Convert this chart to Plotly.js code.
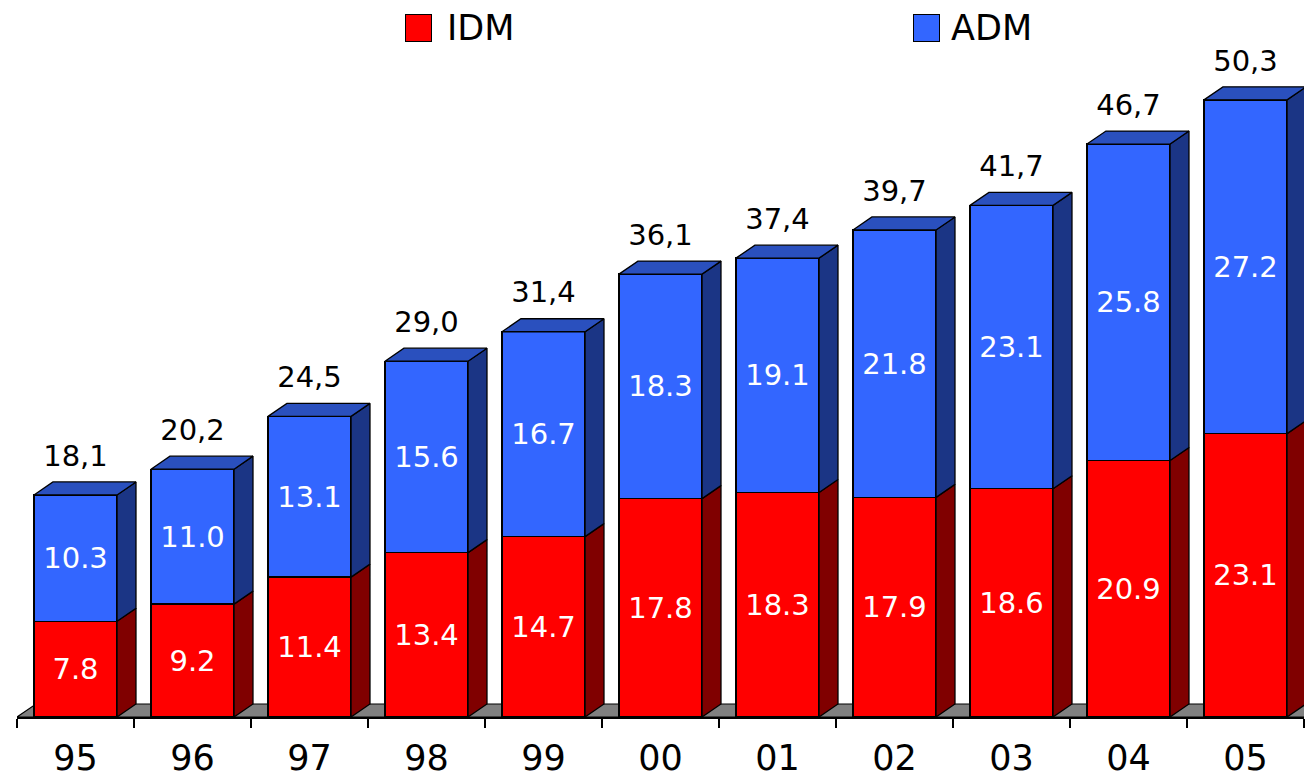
<!DOCTYPE html>
<html>
<head>
<meta charset="utf-8">
<script src="https://cdn.plot.ly/plotly-3.0.1.min.js"></script>
<style>html,body{margin:0;padding:0;background:#fff;}#chart{width:1306px;height:781px;}</style>
</head>
<body>
<div id="chart"></div>
<script>
// ---- data ----
const years = ['95','96','97','98','99','00','01','02','03','04','05'];
const idm = [7.8, 9.2, 11.4, 13.4, 14.7, 17.8, 18.3, 17.9, 18.6, 20.9, 23.1];
const adm = [10.3, 11.0, 13.1, 15.6, 16.7, 18.3, 19.1, 21.8, 23.1, 25.8, 27.2];
const seriesNames = ['IDM', 'ADM'];

// ---- style ----
const FONT = 'DejaVu Sans';
const W = 0.71, DX = 0.162, DY = 1.06;
const RED = '#FF0000', RED_SIDE = '#800000';
const BLUE = '#3366FF', BLUE_SIDE = '#1B3585', BLUE_TOP = '#2A50BE';
const EDGE = {color: '#000', width: 1.3};

const idx = years.map((_, i) => i);
const totals = idm.map((v, i) => v + adm[i]);

const traces = [];
function poly(xs, ys, color) {
  traces.push({type: 'scatter', mode: 'lines', x: xs.concat([xs[0]]), y: ys.concat([ys[0]]),
    fill: 'toself', fillcolor: color, line: EDGE, hoverinfo: 'skip', showlegend: false, cliponaxis: false});
}
idx.forEach(i => {
  const x0 = i - W / 2, x1 = i + W / 2;
  const a = idm[i], t = totals[i];
  poly([x1, x1 + DX, x1 + DX, x1], [0, DY, a + DY, a], RED_SIDE);
  poly([x1, x1 + DX, x1 + DX, x1], [a, a + DY, t + DY, t], BLUE_SIDE);
  poly([x0, x0 + DX, x1 + DX, x1], [t, t + DY, t + DY, t], BLUE_TOP);
});

traces.push({type: 'bar', name: seriesNames[0], x: idx, y: idm, width: W,
  marker: {color: RED, line: EDGE}, text: idm.map(v => v.toFixed(1)),
  textposition: 'inside', insidetextanchor: 'middle', textangle: 0, constraintext: 'none',
  textfont: {family: FONT, size: 29, color: '#fff'}, hoverinfo: 'skip', showlegend: false});
traces.push({type: 'bar', name: seriesNames[1], x: idx, y: adm, width: W,
  marker: {color: BLUE, line: EDGE}, text: adm.map(v => v.toFixed(1)),
  textposition: 'inside', insidetextanchor: 'middle', textangle: 0, constraintext: 'none',
  textfont: {family: FONT, size: 29, color: '#fff'}, hoverinfo: 'skip', showlegend: false});

traces.push({type: 'scatter', mode: 'markers+text', x: idx, y: totals.map(t => t + DY),
  marker: {size: 13, color: 'rgba(0,0,0,0)'},
  text: totals.map(t => t.toFixed(1).replace('.', ',')), textposition: 'top center',
  textfont: {family: FONT, size: 29, color: '#000'}, hoverinfo: 'skip', showlegend: false, cliponaxis: false});

const boundaries = years.map((_, i) => i - 0.5).concat([years.length - 0.5]);

const legendSquareX = [0.3015, 0.6962];
const legendTextX = [0.3325, 0.7240];
const legendColors = [RED, BLUE];
const annotations = [];
seriesNames.forEach((n, k) => {
  annotations.push({xref: 'paper', yref: 'paper', x: legendSquareX[k], y: 1.0487, xanchor: 'left', yanchor: 'middle',
    text: ' ', showarrow: false, width: 25, height: 26, bgcolor: legendColors[k], bordercolor: '#000', borderwidth: 1, borderpad: 0});
  annotations.push({xref: 'paper', yref: 'paper', x: legendTextX[k], y: 1.0487, xanchor: 'left', yanchor: 'middle',
    text: n, showarrow: false, font: {family: FONT, size: 35, color: '#000'}});
});

const layout = {
  width: 1306, height: 781,
  margin: {l: 17, r: 2, t: 60, b: 64},
  paper_bgcolor: '#fff', plot_bgcolor: '#fff',
  barmode: 'stack', showlegend: false,
  xaxis: {range: [-0.5, 10.5], tickmode: 'array', tickvals: idx, ticktext: years, ticks: '',
    ticklabelstandoff: 9, tickfont: {family: FONT, size: 35, color: '#000'},
    showline: true, linecolor: '#000', linewidth: 1.5, showgrid: false, zeroline: false,
    minor: {tickmode: 'array', tickvals: boundaries, ticks: 'outside', ticklen: 9, tickwidth: 1.5, tickcolor: '#000', showgrid: false}},
  yaxis: {range: [0, 53.55], showgrid: false, zeroline: false, showticklabels: false, ticks: '', showline: false},
  shapes: [{type: 'path', xref: 'x', yref: 'y', layer: 'below',
    path: `M -0.5,0 L 11,0 L ${11 + DX},${DY} L ${-0.5 + DX},${DY} Z`,
    fillcolor: '#808080', line: {color: '#000', width: 1.2}}],
  annotations: annotations
};

Plotly.newPlot('chart', traces, layout, {displayModeBar: false, staticPlot: true});
</script>
</body>
</html>
